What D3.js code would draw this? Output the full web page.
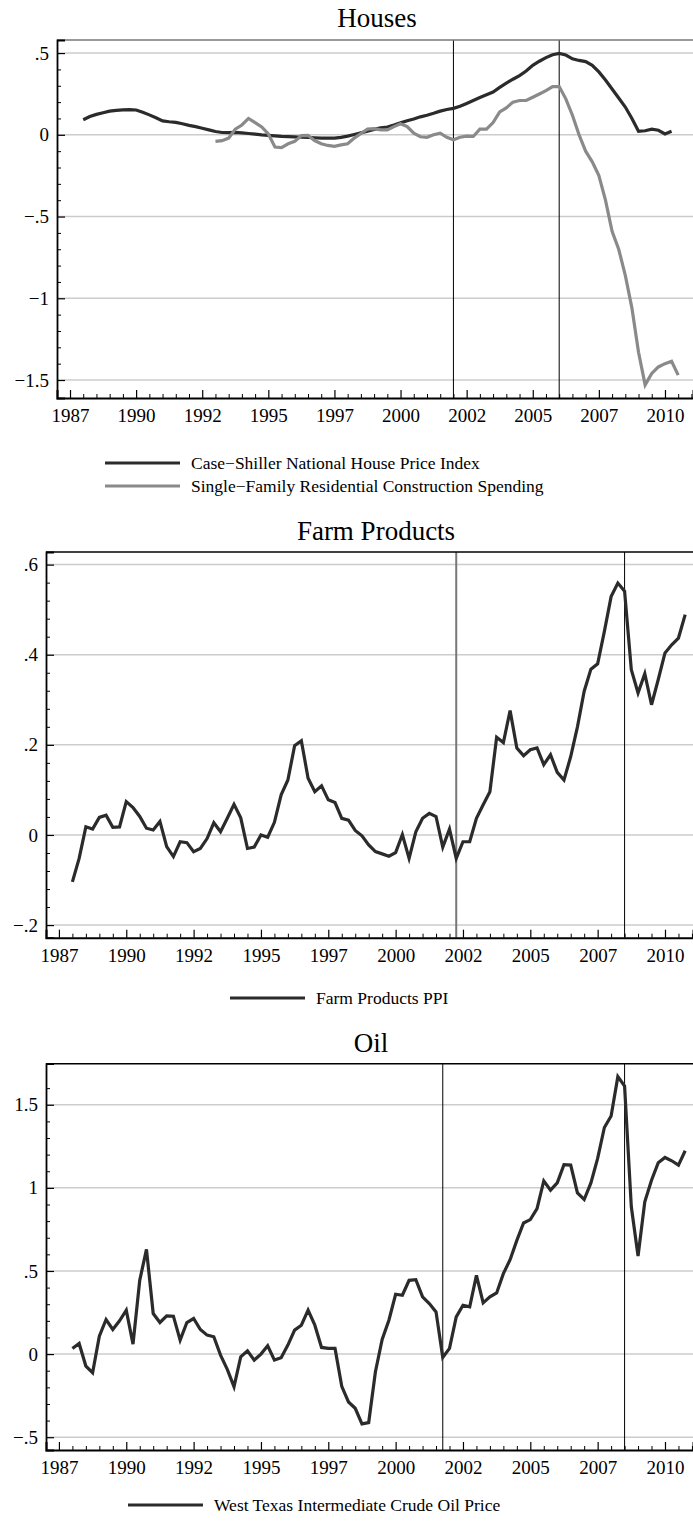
<!DOCTYPE html>
<html>
<head>
<meta charset="utf-8">
<script src="https://d3js.org/d3.v7.min.js"></script>
<style>
  body { margin: 0; background: #fff; }
  text { font-family: "Liberation Serif", "Times New Roman", serif; fill: #000; }
</style>
</head>
<body>
<div id="chart"></div>
<script type="text/javascript">
// quarterly series, first value at the start year, one value per quarter
var houseStart = 1987.5;
var caseShiller = [0.092, 0.112, 0.125, 0.135, 0.145, 0.150, 0.153, 0.154, 0.152, 0.138,
  0.122, 0.104, 0.085, 0.080, 0.076, 0.068, 0.058, 0.050, 0.040, 0.030,
  0.020, 0.014, 0.013, 0.015, 0.012, 0.008, 0.004, 0.000, -0.003, -0.006,
  -0.009, -0.011, -0.013, -0.015, -0.016, -0.018, -0.020, -0.020, -0.020, -0.016,
  -0.008, 0.002, 0.012, 0.022, 0.033, 0.042, 0.048, 0.060, 0.073, 0.086,
  0.097, 0.110, 0.120, 0.132, 0.145, 0.155, 0.162, 0.175, 0.192, 0.210,
  0.228, 0.245, 0.262, 0.290, 0.316, 0.340, 0.362, 0.390, 0.425, 0.450,
  0.472, 0.490, 0.498, 0.488, 0.465, 0.455, 0.448, 0.425, 0.385, 0.335,
  0.280, 0.225, 0.170, 0.100, 0.022, 0.025, 0.035, 0.028, 0.005, 0.022];

var constrStart = 1992.5;
var constrSpending = [-0.040, -0.036, -0.020, 0.035, 0.060, 0.100, 0.075, 0.048, 0.005, -0.075,
  -0.078, -0.055, -0.040, -0.005, -0.003, -0.035, -0.055, -0.065, -0.070, -0.062,
  -0.055, -0.020, 0.008, 0.035, 0.038, 0.030, 0.030, 0.050, 0.068, 0.050,
  0.010, -0.012, -0.015, 0.000, 0.010, -0.015, -0.030, -0.015, -0.008, -0.010,
  0.035, 0.035, 0.075, 0.140, 0.165, 0.200, 0.210, 0.210, 0.230, 0.250,
  0.270, 0.295, 0.295, 0.220, 0.120, 0.000, -0.100, -0.165, -0.250, -0.400,
  -0.590, -0.700, -0.860, -1.060, -1.330, -1.530, -1.460, -1.420, -1.400, -1.385,
  -1.470];

var farmStart = 1987.5;
var farmPPI = [-0.104, -0.052, 0.018, 0.013, 0.039, 0.044, 0.017, 0.018, 0.074, 0.061,
  0.041, 0.015, 0.011, 0.030, -0.026, -0.048, -0.015, -0.017, -0.037, -0.030,
  -0.008, 0.027, 0.007, 0.037, 0.068, 0.038, -0.030, -0.027, 0.000, -0.005,
  0.028, 0.089, 0.122, 0.198, 0.209, 0.126, 0.096, 0.109, 0.078, 0.072,
  0.037, 0.033, 0.010, -0.002, -0.022, -0.037, -0.042, -0.047, -0.039, 0.001,
  -0.052, 0.007, 0.037, 0.048, 0.041, -0.027, 0.013, -0.052, -0.015, -0.015,
  0.037, 0.067, 0.096, 0.217, 0.205, 0.276, 0.193, 0.176, 0.189, 0.193,
  0.156, 0.178, 0.139, 0.122, 0.174, 0.240, 0.319, 0.368, 0.380, 0.452,
  0.529, 0.559, 0.541, 0.367, 0.315, 0.358, 0.289, 0.345, 0.404, 0.422,
  0.437, 0.489];

var oilStart = 1987.5;
var oilPrice = [0.034, 0.064, -0.072, -0.112, 0.108, 0.208, 0.148, 0.200, 0.264, 0.060,
  0.444, 0.630, 0.244, 0.190, 0.230, 0.228, 0.084, 0.190, 0.214, 0.148,
  0.114, 0.104, -0.006, -0.092, -0.196, -0.016, 0.020, -0.036, 0.000, 0.050,
  -0.036, -0.022, 0.054, 0.144, 0.174, 0.264, 0.174, 0.040, 0.034, 0.034,
  -0.194, -0.288, -0.326, -0.420, -0.412, -0.106, 0.088, 0.204, 0.360, 0.354,
  0.444, 0.448, 0.344, 0.304, 0.254, -0.020, 0.034, 0.224, 0.294, 0.284,
  0.474, 0.308, 0.344, 0.368, 0.484, 0.568, 0.684, 0.789, 0.809, 0.875,
  1.042, 0.986, 1.030, 1.140, 1.137, 0.970, 0.930, 1.030, 1.177, 1.363,
  1.432, 1.669, 1.612, 0.886, 0.590, 0.916, 1.046, 1.151, 1.183, 1.163,
  1.137, 1.223];

// x axis ticks (years) and their labels
var xTickYears = [1987, 1989.5, 1992, 1994.5, 1997, 1999.5, 2002, 2004.5, 2007, 2009.5];
var xTickLabels = ["1987", "1990", "1992", "1995", "1997", "2000", "2002", "2005", "2007", "2010"];

// y axis ticks for each panel
var houseTicks = [0.5, 0, -0.5, -1, -1.5];
var houseTickLabels = [".5", "0", "\u2212.5", "\u22121", "\u22121.5"];
var farmTicks = [0.6, 0.4, 0.2, 0, -0.2];
var farmTickLabels = [".6", ".4", ".2", "0", "\u2212.2"];
var oilTicks = [1.5, 1, 0.5, 0, -0.5];
var oilTickLabels = ["1.5", "1", ".5", "0", "\u2212.5"];

// vertical reference lines (years)
var houseBreaks = [2001.5, 2005.5];
var farmBreaks = [2001.75, 2008.0];
var oilBreaks = [2001.25, 2008.0];

function toPoints(start, values) {
  return values.map(function(v, i) { return {year: start + i / 4, value: v}; });
}

var svg = d3.select("#chart").append("svg")
    .attr("width", 693)
    .attr("height", 1522);

function drawPanel(p) {
  var x = d3.scaleLinear().domain(p.xDomain).range([p.left, p.right]);
  var y = d3.scaleLinear().domain(p.yDomain).range([p.bottom, p.top]);
  var g = svg.append("g");

  // title
  g.append("text")
      .attr("x", p.titleX)
      .attr("y", p.titleY)
      .attr("text-anchor", "middle")
      .style("font-size", "27px")
      .text(p.title);

  // horizontal grid
  g.selectAll(".grid")
      .data(p.yTicks)
    .enter().append("line")
      .attr("x1", p.left)
      .attr("x2", p.right)
      .attr("y1", function(d) { return y(d); })
      .attr("y2", function(d) { return y(d); })
      .attr("stroke", "#cccccc")
      .attr("stroke-width", 1.5);

  // vertical reference lines
  g.selectAll(".vline")
      .data(p.breaks)
    .enter().append("line")
      .attr("x1", function(d) { return x(d); })
      .attr("x2", function(d) { return x(d); })
      .attr("y1", p.top)
      .attr("y2", p.bottom)
      .attr("stroke", function(d, i) { return p.breakColors[i]; })
      .attr("stroke-width", function(d, i) { return p.breakWidths[i]; });

  // series
  var line = d3.line()
      .x(function(d) { return x(d.year); })
      .y(function(d) { return y(d.value); });

  p.series.forEach(function(s) {
    g.append("path")
        .datum(toPoints(s.start, s.values))
        .attr("fill", "none")
        .attr("stroke", s.color)
        .attr("stroke-width", 3.2)
        .attr("d", line);
  });

  // frame: top border
  g.append("line")
      .attr("x1", p.left).attr("x2", p.right)
      .attr("y1", p.top).attr("y2", p.top)
      .attr("stroke", p.topColor)
      .attr("stroke-width", 1.5);

  // y axis (ticks point inward)
  var yAxis = d3.axisRight(y)
      .tickValues(p.yTicks)
      .tickSize(8)
      .tickFormat(function(d, i) { return p.yTickLabels[i]; });
  var ya = g.append("g")
      .attr("transform", "translate(" + p.left + ",0)")
      .call(yAxis);
  ya.select(".domain").attr("stroke-width", 1.8);
  ya.selectAll(".tick line").attr("stroke-width", 1.2);
  ya.selectAll(".tick text")
      .attr("x", -8)
      .attr("text-anchor", "end")
      .style("font-size", "19px")
      .style("font-family", "'Liberation Serif', 'Times New Roman', serif");

  var yMinor = d3.axisRight(y)
      .tickValues(p.yMinor)
      .tickSize(4)
      .tickFormat("");
  var ym = g.append("g")
      .attr("transform", "translate(" + p.left + ",0)")
      .call(yMinor);
  ym.select(".domain").remove();

  // x axis
  var xAxis = d3.axisTop(x)
      .tickValues(xTickYears)
      .tickSize(8)
      .tickFormat(function(d, i) { return xTickLabels[i]; });
  var xa = g.append("g")
      .attr("transform", "translate(0," + p.bottom + ")")
      .call(xAxis);
  xa.select(".domain").attr("stroke-width", 2);
  xa.selectAll(".tick line").attr("stroke-width", 1.2);
  xa.selectAll(".tick text")
      .attr("y", 24)
      .style("font-size", "19px")
      .style("font-family", "'Liberation Serif', 'Times New Roman', serif");

  var xMinorVals = d3.range(1987, p.xDomain[1], 0.5).filter(function(d) {
    return xTickYears.indexOf(d) < 0;
  });
  var xMinor = d3.axisTop(x)
      .tickValues(xMinorVals)
      .tickSize(4)
      .tickFormat("");
  var xm = g.append("g")
      .attr("transform", "translate(0," + p.bottom + ")")
      .call(xMinor);
  xm.select(".domain").remove();

  // legend
  p.legend.forEach(function(l) {
    g.append("line")
        .attr("x1", l.x).attr("x2", l.x + 75)
        .attr("y1", l.y).attr("y2", l.y)
        .attr("stroke", l.color)
        .attr("stroke-width", 3.2);
    g.append("text")
        .attr("x", l.x + 86)
        .attr("y", l.y + 6)
        .style("font-size", "17.5px")
        .text(l.label);
  });
}

function minorRange(lo, hi, step, majors) {
  return d3.range(Math.round(lo / step), Math.round(hi / step) + 1)
    .map(function(k) { return +(k * step).toFixed(4); })
    .filter(function(d) {
      return !majors.some(function(m) { return Math.abs(m - d) < 1e-6; });
    });
}

drawPanel({
  title: "Houses", titleX: 377, titleY: 27,
  left: 57, right: 693, top: 40, bottom: 398,
  xDomain: [1986.508, 2010.56], yDomain: [-1.61, 0.58],
  yTicks: houseTicks, yTickLabels: houseTickLabels,
  yMinor: minorRange(-1.5, 0.5, 0.1, houseTicks),
  breaks: houseBreaks, breakColors: ["#000", "#000"], breakWidths: [1, 1],
  topColor: "#777",
  series: [
    {start: houseStart, values: caseShiller, color: "#2b2b2b"},
    {start: constrStart, values: constrSpending, color: "#8a8a8a"}
  ],
  legend: [
    {x: 105, y: 463, color: "#2b2b2b", label: "Case\u2212Shiller National House Price Index"},
    {x: 105, y: 486, color: "#8a8a8a", label: "Single\u2212Family Residential Construction Spending"}
  ]
});

drawPanel({
  title: "Farm Products", titleX: 376, titleY: 540,
  left: 46, right: 693, top: 552, bottom: 937.7,
  xDomain: [1986.52, 2010.54], yDomain: [-0.228, 0.628],
  yTicks: farmTicks, yTickLabels: farmTickLabels,
  yMinor: minorRange(-0.2, 0.6, 0.04, farmTicks),
  breaks: farmBreaks, breakColors: ["#777", "#000"], breakWidths: [2, 1],
  topColor: "#000",
  series: [
    {start: farmStart, values: farmPPI, color: "#2b2b2b"}
  ],
  legend: [
    {x: 230, y: 998, color: "#2b2b2b", label: "Farm Products PPI"}
  ]
});

drawPanel({
  title: "Oil", titleX: 371, titleY: 1052,
  left: 46, right: 693, top: 1063.7, bottom: 1450,
  xDomain: [1986.52, 2010.54], yDomain: [-0.577, 1.747],
  yTicks: oilTicks, yTickLabels: oilTickLabels,
  yMinor: minorRange(-0.5, 1.6, 0.1, oilTicks),
  breaks: oilBreaks, breakColors: ["#000", "#000"], breakWidths: [1, 1],
  topColor: "#000",
  series: [
    {start: oilStart, values: oilPrice, color: "#2b2b2b"}
  ],
  legend: [
    {x: 128, y: 1505, color: "#2b2b2b", label: "West Texas Intermediate Crude Oil Price"}
  ]
});
</script>
</body>
</html>
